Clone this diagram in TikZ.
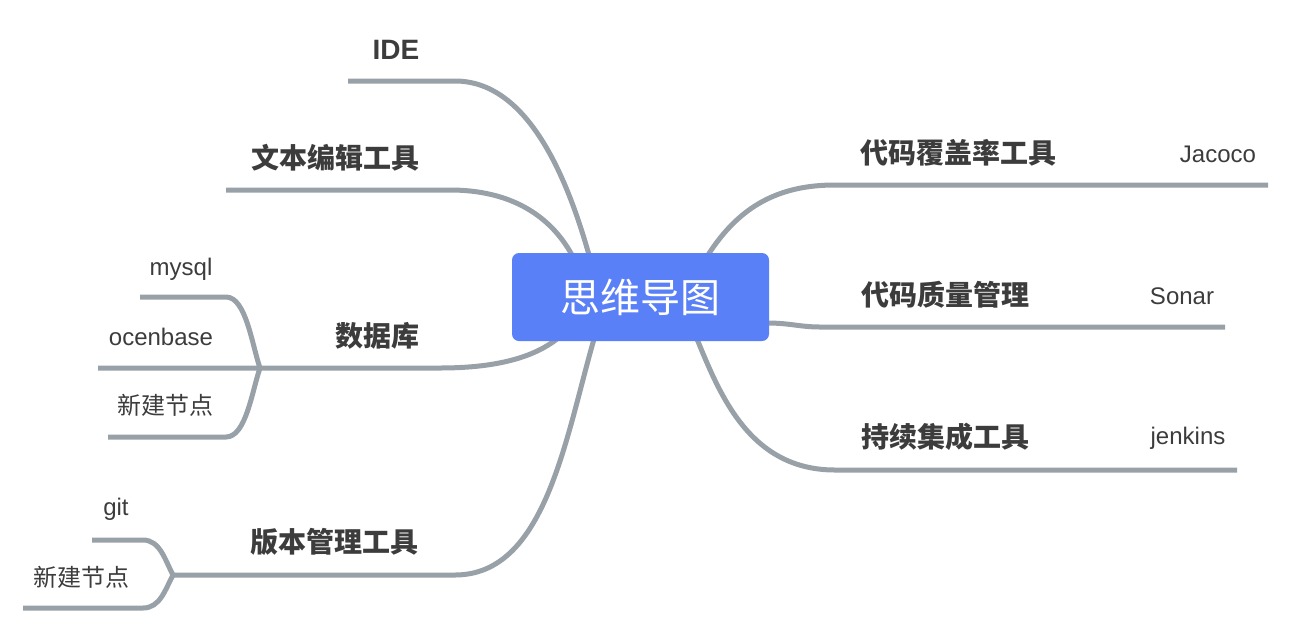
\documentclass[tikz,border=0pt]{standalone}
\usepackage{fontspec}
\setmainfont{Liberation Sans}
\newfontfamily\cjk{Noto Sans CJK SC}
\definecolor{rootblue}{RGB}{90,128,247}
\definecolor{linegray}{RGB}{152,160,168}
\definecolor{txtdark}{RGB}{60,60,60}
\definecolor{txtreg}{RGB}{60,60,60}
\tikzset{
  conn/.style={draw=linegray, line width=5pt},
  mainlab/.style={inner sep=0pt, text=txtdark, font=\cjk\bfseries\fontsize{28}{32}\selectfont, text height=0.83em, text depth=0.07em, anchor=center},
  idelab/.style={inner sep=0pt, text=txtdark, font=\bfseries\fontsize{28}{32}\selectfont, text height=0.72em, text depth=0.21em, anchor=center},
  sublab/.style={inner sep=0pt, text=txtreg, font=\fontsize{24}{28}\selectfont, text height=0.72em, text depth=0.21em, anchor=center},
  subcjk/.style={inner sep=0pt, text=txtreg, font=\cjk\fontsize{24}{28}\selectfont, text height=0.83em, text depth=0.07em, anchor=center},
  rootbox/.style={fill=rootblue, rounded corners=7pt, minimum width=257pt, minimum height=88pt, inner sep=0pt, text=white, font=\cjk\fontsize{40}{46}\selectfont}
}
\begin{document}
\begin{tikzpicture}[x=1pt,y=-1pt]
\useasboundingbox (0,0) rectangle (1292,633);

% ---------- connector end points ----------
\coordinate (ideL) at (348,81);
\coordinate (ideR) at (455,81);
\coordinate (ideC) at (589,255);
\coordinate (txtL) at (226,190);
\coordinate (txtR) at (450,190);
\coordinate (txtC) at (572,255);
\coordinate (dbJ) at (260,368);
\coordinate (dbR) at (440,368);
\coordinate (dbC) at (557,339);
\coordinate (myL) at (140,297);
\coordinate (myR) at (226,297);
\coordinate (ocL) at (98,368);
\coordinate (nbL) at (108,437);
\coordinate (nbR) at (226,437);
\coordinate (vcJ) at (173,575);
\coordinate (vcR) at (455,575);
\coordinate (vcC) at (594,339);
\coordinate (gitL) at (92,540);
\coordinate (gitR) at (143,540);
\coordinate (nb2L) at (23,608);
\coordinate (nb2R) at (143,608);
\coordinate (covC) at (708,255);
\coordinate (covM) at (835,185);
\coordinate (covR) at (1268,185);
\coordinate (quaC) at (767,323);
\coordinate (quaM) at (820,327);
\coordinate (quaR) at (1225,327);
\coordinate (ciC) at (697,339);
\coordinate (ciM) at (835,470);
\coordinate (ciR) at (1237,470);

% left side
\draw[conn] (ideL) -- (ideR) .. controls (525,81) and (565,170) .. (ideC);
\draw[conn] (txtL) -- (txtR) .. controls (510,190) and (550,215) .. (txtC);
\draw[conn] (ocL) -- (dbJ) -- (dbR) .. controls (500,368) and (535,356) .. (dbC);
\draw[conn] (myL) -- (myR) .. controls (246,297) and (252,345) .. (dbJ);
\draw[conn] (nbL) -- (nbR) .. controls (246,437) and (252,391) .. (dbJ);
\draw[conn] (vcJ) -- (vcR) .. controls (545,575) and (565,440) .. (vcC);
\draw[conn] (gitL) -- (gitR) .. controls (160,540) and (165,560) .. (vcJ);
\draw[conn] (nb2L) -- (nb2R) .. controls (160,608) and (165,590) .. (vcJ);
% right side
\draw[conn] (covC) .. controls (740,205) and (780,185) .. (covM) -- (covR);
\draw[conn] (quaC) .. controls (790,323) and (800,327) .. (quaM) -- (quaR);
\draw[conn] (ciC) .. controls (720,395) and (750,470) .. (ciM) -- (ciR);

% ---------- root ----------
\node[rootbox] (root) at (640.5,297) {\raisebox{1.5pt}{思维导图}};

% ---------- labels ----------
\node[idelab] (ide) at (396,57) {IDE};
\node[mainlab] (txt) at (335,165) {文本编辑工具};
\node[mainlab] (db) at (377,343) {数据库};
\node[mainlab] (vc) at (334,549) {版本管理工具};
\node[mainlab] (cov) at (958,160) {代码覆盖率工具};
\node[mainlab] (qua) at (945,302) {代码质量管理};
\node[mainlab] (ci) at (945,444) {持续集成工具};

\node[sublab] (mysql) at (181,273) {mysql};
\node[sublab] (ocen) at (161,343) {ocenbase};
\node[subcjk] (nb1) at (165,411) {新建节点};
\node[sublab] (git) at (116,513) {git};
\node[subcjk] (nb2) at (81,583) {新建节点};
\node[sublab] (jac) at (1218,160) {Jacoco};
\node[sublab] (son) at (1182,302) {Sonar};
\node[sublab] (jen) at (1188,442) {jenkins};
\end{tikzpicture}
\end{document}
